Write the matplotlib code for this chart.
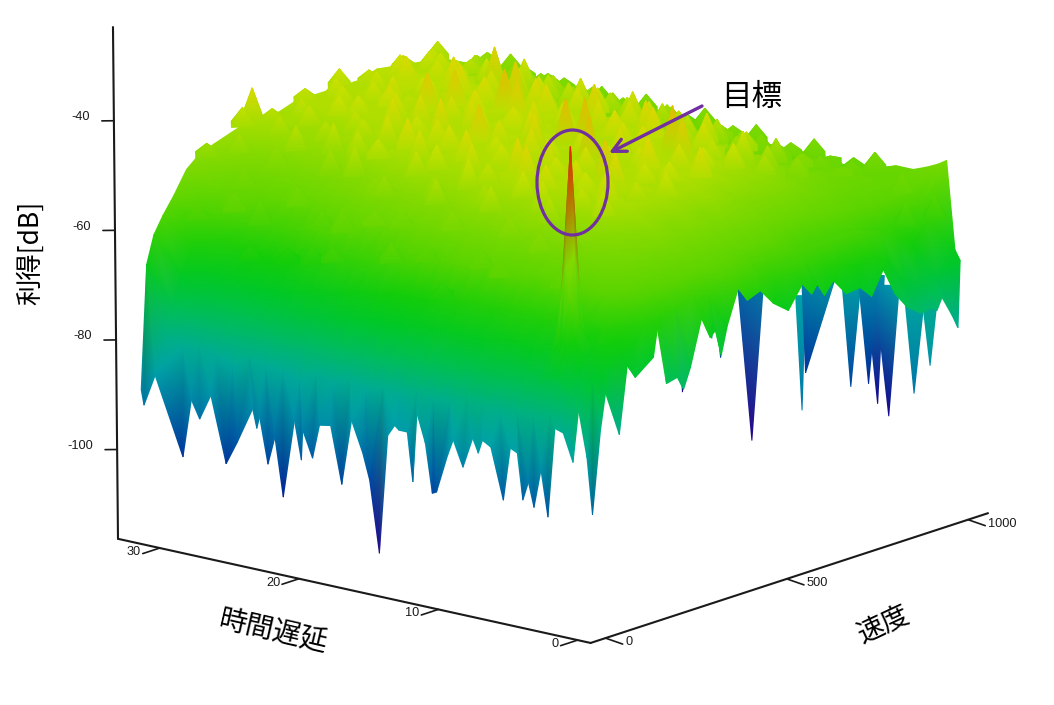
import numpy as np
import matplotlib
matplotlib.use("Agg")
import matplotlib.pyplot as plt
from matplotlib.colors import LinearSegmentedColormap, Normalize
from matplotlib.patches import Ellipse
from matplotlib.tri import Triangulation
from mpl_toolkits.mplot3d import proj3d

# ---------- data ----------
delay_grid = [0.4,1,1.6,2.4,3.4,4.6,5.8,7,8.2,9.4,10.6,11.8,13,14.2,15.4,16.6,17.8,19,20.2,21.4,22.6,23.8,25,26.2,27.4,28.6,29.8,31,32.4]
speed_grid = [15,35,60,90,125,160,200,245,290,335,380,425,470,515,560,605,650,695,740,785,830,875,920,965,1015]
gain_grid = [
[-71,-73,-75,-77,-78,-79,-79,-80,-79,-78,-80,-80,-79,-81,-80,-81,-80,-81,-80,-82,-81,-81,-80,-82,-81,-80,-81,-79,-67],
[-70,-71,-72,-72,-73,-73,-74,-74,-73,-74,-75,-74,-75,-74,-75,-75,-76,-75,-76,-76,-77,-76,-77,-77,-77,-77,-76,-74,-62],
[-68,-68,-67,-67,-68,-68,-69,-68,-68,-69,-69,-68,-69,-69,-70,-70,-70,-71,-71,-72,-72,-73,-73,-74,-74,-73,-72,-69,-59],
[-67,-65,-63,-63,-64,-63,-64,-63,-63,-64,-63,-64,-64,-65,-65,-65,-66,-66,-67,-68,-68,-69,-70,-70,-69,-69,-68,-64,-56],
[-66,-63,-60,-58,-58,-58,-58,-57,-58,-58,-57,-58,-58,-59,-59,-59,-60,-61,-62,-62,-63,-64,-65,-65,-65,-64,-63,-60,-52],
[-63,-60,-58,-55,-54,-53,-53,-53,-52,-53,-52,-53,-53,-53,-54,-54,-55,-55,-56,-57,-58,-59,-60,-61,-61,-60,-58,-56,-50],
[-63,-59,-57,-54,-52,-50,-49,-49,-49,-48,-49,-49,-49,-49,-50,-50,-50,-51,-51,-52,-53,-54,-55,-56,-56,-56,-55,-53,-49],
[-62,-58,-56,-53,-50,-48,-47,-47,-47,-47,-47,-47,-47,-47,-48,-48,-48,-48,-49,-49,-50,-50,-51,-52,-52,-52,-51,-50,-48],
[-61,-58,-55,-52,-49,-47,-46,-46,-46,-46,-46,-46,-46,-46,-47,-47,-47,-47,-47,-47,-47,-48,-48,-49,-49,-49,-48,-48,-47],
[-62,-58,-55,-53,-50,-47,-47,-46,-46,-46,-46,-46,-46,-46,-46,-46,-46,-46,-47,-46,-47,-47,-47,-47,-48,-48,-48,-47,-47],
[-59,-57,-56,-52,-49,-47,-46,-46,-46,-46,-46,-46,-46,-46,-46,-46,-46,-46,-46,-46,-46,-47,-46,-47,-47,-47,-47,-47,-47],
[-60,-58,-56,-53,-50,-47,-47,-46,-46,-46,-46,-46,-46,-46,-46,-45,-46,-45,-46,-46,-46,-46,-46,-46,-46,-46,-46,-46,-46],
[-61,-59,-57,-53,-49,-47,-46,-46,-45,-46,-46,-46,-46,-46,-46,-46,-45,-46,-46,-46,-46,-46,-46,-46,-46,-46,-46,-46,-46],
[-63,-60,-57,-54,-50,-48,-46,-46,-46,-46,-46,-46,-46,-45,-46,-45,-46,-45,-45,-46,-45,-46,-45,-46,-45,-46,-46,-46,-46],
[-62,-60,-58,-54,-51,-48,-47,-46,-46,-46,-45,-46,-46,-46,-45,-46,-45,-46,-45,-46,-45,-46,-45,-46,-45,-46,-45,-46,-46],
[-62,-60,-59,-55,-51,-49,-47,-46,-46,-46,-46,-45,-46,-45,-46,-45,-46,-45,-46,-45,-46,-45,-46,-45,-46,-45,-45,-46,-46],
[-63,-60,-60,-56,-52,-49,-48,-47,-47,-46,-46,-46,-46,-45.5,-45.5,-45.5,-45.5,-45.5,-45.5,-45.5,-45.5,-45.5,-45,-45,-45,-45,-45,-45,-45],
[-64,-60,-60,-56,-53,-50,-49,-48,-47,-47,-47,-46.5,-46.5,-46,-46,-46,-46,-46,-46,-46,-46,-46,-46,-45.5,-45.5,-45.5,-45.5,-45.5,-45.5],
[-65,-60,-60,-57,-54,-52,-50,-49,-48,-48,-48,-48,-47.5,-47.5,-47,-47,-47,-47,-47,-47,-47,-47,-46.5,-46.5,-46,-46,-46,-46,-46],
[-64,-60,-60,-57,-55,-53,-52,-51,-50,-50,-49.5,-49.5,-49,-49,-49,-48.5,-48.5,-48.5,-48.5,-48,-48,-48,-47.5,-47.5,-47,-47,-47,-46.5,-46.5],
[-66,-61,-61,-58,-56,-54,-53,-52,-52,-51.5,-51,-51,-50.5,-50.5,-50,-50,-50,-50,-49.5,-49.5,-49.5,-49,-49,-49,-48.5,-48,-48,-47.5,-47],
[-71,-63,-61,-58,-56,-55,-54,-53.5,-53,-53,-52.5,-52.5,-52,-52,-52,-51.5,-51.5,-51,-51,-51,-50.5,-50.5,-50.5,-50,-50,-49.5,-49,-49,-48.5],
[-73,-65,-62,-58,-56,-55,-55,-54.5,-54,-54,-54,-53.5,-53.5,-53,-53,-53,-53,-52.5,-52.5,-52.5,-52,-52,-52,-51.5,-51.5,-51,-51,-50.5,-50],
[-72,-62,-60,-57,-56,-56,-55.5,-55.5,-55,-55,-55,-55,-54.5,-54.5,-54.5,-54,-54,-54,-54,-53.5,-53.5,-53.5,-53,-53,-53,-52.5,-52,-52,-51.5],
[-68,-52,-53,-54,-55,-55,-56,-57,-57,-57,-57,-57,-57,-57,-57,-57,-56,-56,-56,-56,-55,-55,-55,-55,-55,-54,-54,-54,-53],
]

# small pointed bumps all over the upper part of the surface
bump_speed = [125,175,230,285,340,395,450,505,560,615,670,725,780,835,890,945,990]
bump_delay = [5,7,9,11,13,15,17,19,21,23,25,27,29,31]
bump_row_shift = [0.5,1.1,0.2,1.4,0.7,0,1.2,0.4,1.6,0.9,0.1,1.3,0.6,1.7,0.3,1,0.5]
bump_col_shift = [0,18,-14,9,-20,12,-8,22,-16,5,15,-12,20,-6]
bump_rise = [
[2,3,2,3,2,2,3,2,2,3,2,2,3,2],
[3,4,3,4,3,4,3,3,4,3,3,4,3,2],
[4,3,5,4,3,5,3,4,3,5,4,3,3,3],
[5,3,4,6,3,5,4,5,3,4,5,4,3,3],
[3,6,4,3,6,3,5,4,5,5,3,3,3,2],
[4,3,7,4,5,5,3,6,4,3,5,3,3,3],
[3,5,4,8,3,6,4,4,6,5,4,3,3,2],
[5,4,3,5,4,8,5,3,5,4,6,3,3,3],
[3,7,4,4,8,4,5,6,4,6,4,4,3,3],
[4,3,8,5,4,5,4,5,7,4,5,3,4,2],
[3,5,4,3,6,4,6,4,5,7,4,5,3,3],
[4,3,5,4,4,5,4,5,4,5,7,3,3,2],
[3,4,3,4,3,4,4,3,4,4,5,4,2,3],
[2,2,3,2,3,3,2,3,3,3,2,3,3,3],
[1,2,2,3,2,2,3,2,3,2,3,2,3,2],
[2,1,2,1,2,2,1,2,2,1,2,2,2,2],
[3,2,3,2,3,2,3,2,3,2,3,2,2,3],
]
extra_bump_speed = [306,740,990,950,925]
extra_bump_delay = [32.4,31,1.2,2.5,1.6]
extra_bump_rise = [6,3,4,3,4]

# jagged lower rim along speed = 0
front_delay = [32.4,32.2,31.4,29.4,28.8,28.2,27.4,26.3,25.5,24.4,24.1,23.9,23.3,22.8,22.2,21.4,20.9,20.8,20.1,19.6,18.8,18,17.3,16.5,16,15.3,14.7,14.2,13.9,13.3,12.9,12.6,12,11.5,11.2,10.4,10,9.3,8.6,8.2,7.9,7.3,6.4,5.9,5.4,5,4.6,4.2,3.7,3.2,2.7,2.1,1.4,1,0.4,0]
front_gain = [-89.6,-92.3,-86.4,-100.2,-89.4,-92.6,-87.8,-99.7,-95.3,-88.6,-92,-89.8,-98.1,-92.9,-103.5,-89,-96,-90.5,-95.2,-88.9,-88.5,-98.8,-86.7,-92.2,-96.9,-109.9,-88,-85.9,-86.6,-86.6,-95.5,-82.8,-87.9,-96.8,-96.4,-89.2,-86.2,-90.8,-85.1,-87.6,-85.1,-86,-95.2,-85.4,-86,-94.4,-90.9,-95.3,-88.2,-96.5,-80,-80.5,-85.5,-75.7,-84,-94.3]
# jagged lower rim along delay = 0
right_speed = [22,36,74,96,105,118,168,179,204,234,251,270,306,325,339,355,372,402,427,463,499,540,587,605,620,640,664,700,738,770,802,835,868,905,939,950,964,992,1008,1014]
right_gain = [-79.3,-72.8,-81.2,-69,-70.1,-71.7,-69.1,-64.1,-74.7,-74.2,-76.8,-73.2,-63.5,-68.9,-67.9,-72.8,-67.7,-61.6,-64.3,-63.3,-66.4,-68.6,-63.8,-67,-65.5,-68,-65.8,-69,-68.7,-71,-66.8,-72,-75.1,-77,-76.8,-77.5,-75.4,-79.3,-81.9,-69.7]

# deep blue valleys that show below the right-hand rim (tip, left top, right top)
valley_speed = [[985,1330,1280],[1097,1169,1178],[697,1075,1087],[1110,1317,1276],[1035,1228,1249],[1255,1337,1358],[1205,1353,1242],[906,1141,1166],[954,1077,1094],[959,1029,988],[1037,1123,1137],[1180,1353,1379]]
valley_delay = [[14.2,24.3,21],[22.1,24.2,24],[3.1,13.4,13],[13.6,19.3,15.5],[8.4,14.1,13.2],[12.2,15.3,14.4],[10.1,15,10.3],[0.5,7.3,6.5],[0.6,4.4,3.7],[16.4,18.6,16.9],[17.8,20.5,20],[10.9,16.2,15.3]]
valley_gain = [[-110,-92,-90],[-108,-100,-100],[-92,-85,-85],[-100,-88,-85],[-98,-85,-85],[-108,-88,-88],[-108,-90,-85],[-92,-83,-83],[-88,-80,-80],[-92,-85,-85],[-98,-90,-90],[-102,-88,-88]]

# the target peak
peak_delay = [2.0,2.55,2.85,3.15,3.45,3.75,4.3]
peak_speed = [20,38,46,60,74,82,100]
peak_gain = [
[-74,-73,-72,-71,-72,-72,-73],
[-71,-67,-66,-65,-66,-67,-71],
[-70,-65,-58,-52,-58,-64,-70],
[-68,-62,-50,-30,-50,-62,-68],
[-68,-64,-57,-50,-57,-64,-67],
[-67,-65,-63,-61,-62,-64,-66],
[-64,-63,-63,-62,-63,-63,-64],
]

color_levels = [-112,-108,-103,-97,-91,-86,-81,-75,-70,-65,-58,-50,-46,-43,-40,-37,-34,-30]
color_values = [(60,0,130),(20,0,140),(0,30,150),(0,70,165),(0,125,170),(0,160,170),(0,170,150),(0,190,90),(0,200,40),(20,205,10),(90,212,0),(135,218,0),(175,222,0),(205,225,0),(225,215,0),(232,175,0),(240,120,0),(245,10,0)]

gain_ticks = [-40,-60,-80,-100]
delay_ticks = [0,10,20,30]
speed_ticks = [0,500,1000]

# ---------- axes ----------
W, H = 1054, 705
S0, S1 = -41, 1055
D0, D1 = -0.93, 33
Z0, Z1 = -116.3, -22.9
INK = "#1a1a1a"
CJK = ["Noto Sans CJK JP", "DejaVu Sans"]

fig = plt.figure(figsize=(W/100, H/100), dpi=100)
ax = fig.add_axes([0, 0, H/W, 1], projection="3d", proj_type="ortho")
ax.view_init(elev=15.56, azim=-140.6)
ax.set_xlim(S0, S1); ax.set_ylim(D0, D1); ax.set_zlim(Z0, Z1)
ax.set_box_aspect((626, 611.5, 530))
ax.set_axis_off()
ax.patch.set_alpha(0)
ax.apply_aspect()

def to_px(s, d, z):
    u, v, _ = proj3d.proj_transform(np.atleast_1d(np.asarray(s, float)), np.atleast_1d(np.asarray(d, float)),
                                    np.atleast_1d(np.asarray(z, float)), ax.get_proj())
    return ax.transData.transform(np.column_stack((u, v)))

# place the 3D box so that its floor edges fall where the reference has them
ref = to_px([S1, S0], [D0, D1], [Z0, Z0])
tgt = np.array([[988, H-513], [118, H-539]], float)
k = np.linalg.norm(tgt[0]-tgt[1]) / np.linalg.norm(ref[0]-ref[1])
off = tgt.mean(axis=0) - k*ref.mean(axis=0)
ax.set_position([off[0]/W, off[1]/H, k*H/W, k])
ax.apply_aspect()

over = fig.add_axes([0, 0, 1, 1], zorder=5)
over.patch.set_alpha(0)

def zline(s, d, z, lw=1.5):
    ax.plot(s, d, z, color=INK, lw=lw, clip_on=False, solid_capstyle="round")

def axis_d(z):
    return D1 + 0.36*(z-Z0)/(Z1-Z0)

def tick_label(s, d, z, txt, ha):
    p = to_px(s, d, z)[0]
    over.text(p[0], H-p[1], txt, ha=ha, va="center", fontsize=9.2, family="Liberation Sans", color=INK)

zline([S0, S0], [D0, D1], [Z0, Z0])
zline([S0, S1], [D0, D0], [Z0, Z0])
zline([S0, S0], [D1, axis_d(Z1)], [Z0, Z1])
for t in delay_ticks:
    zline([S0, S0-47], [t, t], [Z0, Z0], 1.2)
    tick_label(S0-41, t+0.29, Z0, str(t), "right")
for t in speed_ticks:
    zline([t, t-11], [D0, D0-1.52], [Z0, Z0], 1.2)
    tick_label(t+2, D0-1.38, Z0, str(t), "left")
for t in gain_ticks:
    d = axis_d(t)
    zline([S0, S0-14], [d, d+0.5], [t, t], 1.2)
    tick_label(S0-20, d+1.2, t+0.4, str(t), "right")

# ---------- surface as Gouraud triangles, painted back to front ----------
vs, vd, vz, tris = [], [], [], []
count = 0
def add(s, d, z):
    global count
    start = count
    s = np.ravel(s).astype(float); d = np.ravel(d).astype(float); z = np.ravel(z).astype(float)
    vs.append(s); vd.append(d); vz.append(z)
    count += len(s)
    return start

# valleys first: they lie behind everything else
for s3, d3, z3 in zip(valley_speed, valley_delay, valley_gain):
    i0 = add(s3, d3, z3)
    tris.append((i0, i0+1, i0+2))

# main grid
Dg = np.array(delay_grid); Sg = np.array(speed_grid); Zg = np.array(gain_grid, float)
nr, nc = Zg.shape
SS, DD = np.meshgrid(Sg, Dg, indexing="ij")
g0 = add(SS, DD, Zg)
idx = lambda i, j: g0 + i*nc + j
for i in range(nr-2, -1, -1):
    for j in range(nc-2, -1, -1):
        tris.append((idx(i+1, j+1), idx(i+1, j), idx(i, j+1)))
        tris.append((idx(i, j), idx(i+1, j), idx(i, j+1)))

# bumps
bumps = []
for r, s_b in enumerate(bump_speed):
    for c, d_b in enumerate(bump_delay):
        bumps.append((s_b + bump_col_shift[c], d_b + bump_row_shift[r], bump_rise[r][c]))
bumps += list(zip(extra_bump_speed, extra_bump_delay, extra_bump_rise))
bumps.sort(key=lambda b: 0.635*b[0]/36.3 + 0.773*b[1], reverse=True)
DW, SW = 0.8, 30
for s_b, d_b, rise in bumps:
    foot = Zg[np.argmin(np.abs(Sg-s_b)), np.argmin(np.abs(Dg-d_b))]
    i0 = add([s_b, s_b, s_b+SW, s_b, s_b-SW],
             [d_b, d_b+DW, d_b, d_b-DW, d_b],
             [foot+rise, foot, foot, foot, foot])
    tris += [(i0, i0+1, i0+2), (i0, i0+2, i0+3), (i0, i0+1, i0+4), (i0, i0+3, i0+4)]

# rim: fine jagged edge stitched to the first row and column of the grid
e_s = np.r_[np.zeros(len(front_delay)), right_speed]
e_d = np.r_[front_delay, np.zeros(len(right_speed))]
e_z = np.r_[front_gain, right_gain]
e_t = np.r_[-np.array(front_delay), np.array(right_speed)/40.0]
t_ids = [idx(0, j) for j in range(nc-1, -1, -1)] + [idx(i, 0) for i in range(1, nr)]
t_t = np.r_[-Dg[::-1], Sg[1:]/40.0]
base = add(e_s, e_d, e_z)
rim = []
a, b = 0, 0
while a < len(e_s)-1 or b < len(t_ids)-1:
    step_e = b >= len(t_ids)-1 or (a < len(e_s)-1 and e_t[a+1] <= t_t[b+1])
    if step_e:
        rim.append((base+a, t_ids[b], base+a+1)); a += 1
    else:
        rim.append((base+a, t_ids[b], t_ids[b+1])); b += 1
all_s = np.concatenate(vs); all_d = np.concatenate(vd)
depth = lambda tr: np.mean(0.635*all_s[list(tr)]/36.3 + 0.773*all_d[list(tr)])
rim.sort(key=depth, reverse=True)
tris += rim

# target peak, painted last
Pd = np.array(peak_delay); Ps = np.array(peak_speed); Pz = np.array(peak_gain, float)
PS, PD = np.meshgrid(Ps, Pd, indexing="ij")
p0 = add(PS, PD, Pz)
pn, pc = Pz.shape
pid = lambda i, j: p0 + i*pc + j
for i in range(pn-2, -1, -1):
    for j in range(pc-2, -1, -1):
        tris.append((pid(i+1, j+1), pid(i+1, j), pid(i, j+1)))
        tris.append((pid(i, j), pid(i+1, j), pid(i, j+1)))

all_s = np.concatenate(vs); all_d = np.concatenate(vd); all_z = np.concatenate(vz)
px = to_px(all_s, all_d, all_z)

lo, hi = color_levels[0], color_levels[-1]
cmap = LinearSegmentedColormap.from_list(
    "gain", [((v-lo)/(hi-lo), tuple(c/255 for c in col)) for v, col in zip(color_levels, color_values)], N=512)
tri = Triangulation(px[:, 0], H-px[:, 1], np.array(tris))
over.tripcolor(tri, all_z, shading="gouraud", cmap=cmap, norm=Normalize(lo, hi))
over.set_xlim(0, W); over.set_ylim(H, 0)
over.axis("off")

# ---------- annotation and axis titles ----------
PURPLE = "#7030a0"
over.add_patch(Ellipse((572.5, 182.5), 71, 105, fill=False, ec=PURPLE, lw=2.3))
over.annotate("", xy=(609, 153), xytext=(702, 106),
              arrowprops=dict(arrowstyle="->", color=PURPLE, lw=2.4, mutation_scale=24, shrinkA=0, shrinkB=0))
over.text(752, 97, "目標", fontsize=22, family=CJK, ha="center", va="center", color="black")
over.text(30, 253, "利得[dB]", fontsize=19, family=CJK, rotation=90, ha="center", va="center", color="black")
over.text(273, 632, "時間遅延", fontsize=20, family=CJK, rotation=-13, ha="center", va="center", color="black")
over.text(883, 625, "速度", fontsize=19.5, family=CJK, rotation=25, ha="center", va="center", color="black")

fig.savefig("out.png", dpi=100)
